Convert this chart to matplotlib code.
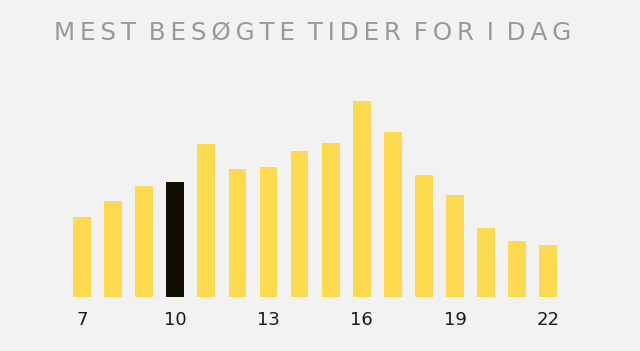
import matplotlib.pyplot as plt

hours = list(range(7, 23))
visits = [80, 96, 111, 115, 153, 128, 130, 146, 154, 196, 165, 122, 102, 69, 56, 52]
current_hour = 10
tick_hours = [7, 10, 13, 16, 19, 22]

YELLOW = '#fdda4f'
BLACK = '#120d05'
BG = '#f2f2f2'

fig = plt.figure(figsize=(6.4, 3.51), dpi=100, facecolor=BG)
ax = fig.add_axes([0, 54.3 / 351, 1, 1 - 54.3 / 351])
ax.set_facecolor(BG)

colors = [BLACK if h == current_hour else YELLOW for h in hours]
ax.bar(hours, visits, width=0.57, color=colors)

ax.set_xlim(7 - 82 / 31.09, 7 + (640 - 82) / 31.09)
ax.set_ylim(0, 296.7)
ax.set_xticks(tick_hours)
ax.set_xticklabels([str(h) for h in tick_hours], fontsize=13, color='#1a1a1a')
ax.tick_params(axis='x', length=0, pad=10)
ax.set_yticks([])
for s in ax.spines.values():
    s.set_visible(False)

# title, letters spread out inside each word
title = 'MEST BESØGTE TIDER FOR I DAG'
spaced = '\u2009 '.join('\u2009'.join(w) for w in title.split())
fig.text(312.5 / 640, 1 - 32 / 351, spaced, ha='center', va='center',
         fontsize=17.7, color='#999999')

fig.savefig('out.png', dpi=100, facecolor=BG)
